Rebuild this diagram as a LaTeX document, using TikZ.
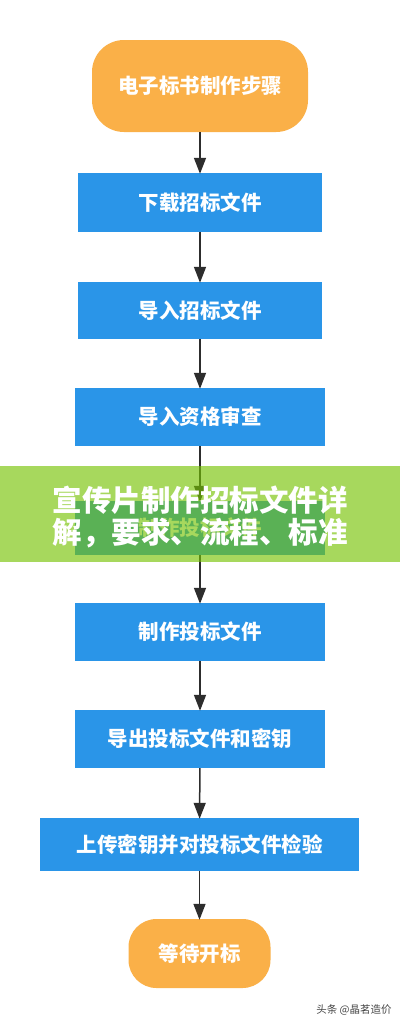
\documentclass[tikz,border=0pt]{standalone}
\usepackage{fontspec}
\newfontfamily\cjk{Noto Sans CJK SC}
\usetikzlibrary{arrows.meta}
\definecolor{boxblue}{RGB}{42,149,232}
\definecolor{pillorange}{RGB}{250,176,72}
\definecolor{bannergreen}{RGB}{118,194,3}
\definecolor{arrowgray}{RGB}{45,45,45}
\definecolor{marktext}{RGB}{70,70,70}
\tikzset{
  stepbox/.style={fill=boxblue, draw=none, inner sep=0pt, text=white,
    font=\cjk\bfseries\fontsize{20.5}{22}\selectfont},
  pill/.style={fill=pillorange, draw=none, inner sep=0pt, text=white,
    font=\cjk\bfseries\fontsize{20.5}{22}\selectfont},
  flow/.style={draw=arrowgray, line width=1.5pt,
    -{Triangle[length=16pt,width=12pt]}, shorten >=-1pt},
  bannertext/.style={text=white, inner sep=0pt,
    font=\cjk\bfseries\fontsize{29.5}{31}\selectfont}
}
\begin{document}
\begin{tikzpicture}[x=1pt,y=-1pt]
\useasboundingbox (0,0) rectangle (400,1028);
\fill[white] (0,0) rectangle (400,1028);
\node[pill, rounded corners=32pt, minimum width=216pt, minimum height=92pt] (start) at (200,86) {电子标书制作步骤};
\node[stepbox, minimum width=244pt, minimum height=59pt] (b1) at (200,202.5) {下载招标文件};
\node[stepbox, minimum width=244pt, minimum height=57pt] (b2) at (200,310.5) {导入招标文件};
\node[stepbox, minimum width=250pt, minimum height=58pt] (b3) at (200,417) {导入资格审查};
\node[stepbox, minimum width=250pt, minimum height=54pt] (b4) at (200,528) {制作投标文件};
\node[stepbox, minimum width=250pt, minimum height=58pt] (b5) at (200,632) {制作投标文件};
\node[stepbox, minimum width=250pt, minimum height=58pt] (b6) at (200,739) {导出投标文件和密钥};
\node[stepbox, minimum width=319pt, minimum height=53pt] (b7) at (199.5,844.5) {上传密钥并对投标文件检验};
\node[pill, rounded corners=28pt, minimum width=142pt, minimum height=69pt] (end) at (199.5,953.5) {等待开标};
\draw[flow] (start) -- (b1);
\draw[flow] (b1) -- (b2);
\draw[flow] (b2) -- (b3);
\draw[flow] (b3) -- (b4);
\draw[flow] (b4) -- (b5);
\draw[flow] (b5) -- (b6);
\draw[flow] (b6) -- (b7);
\draw[flow] (b7) -- (end);
\fill[bannergreen, fill opacity=0.64] (0,466) rectangle (400,562);
\node[bannertext] (t1) at (200,500) {宣传片制作招标文件详};
\node[bannertext] (t2) at (200,533) {解，要求、流程、标准};
\node[text=marktext, inner sep=0pt, font=\cjk\fontsize{10.5}{12}\selectfont] (mark) at (354,1010) {头条 @晶茗造价};
\end{tikzpicture}
\end{document}
